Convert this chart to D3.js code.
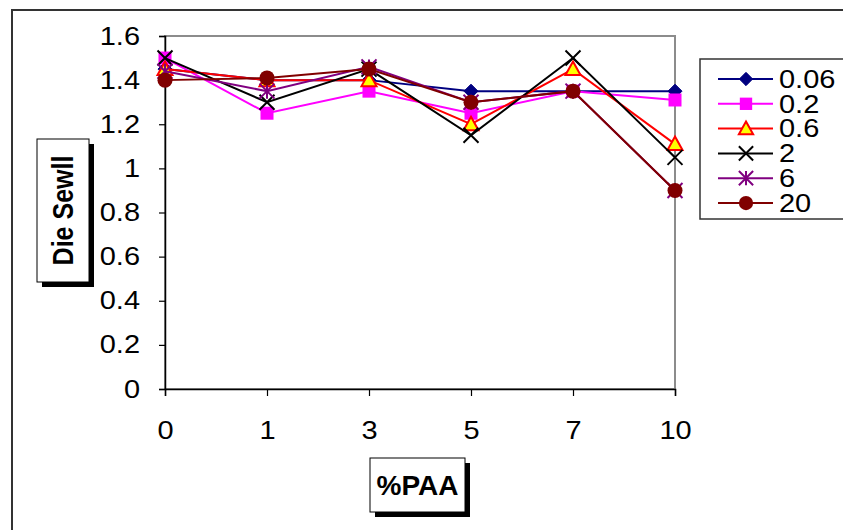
<!DOCTYPE html>
<html>
<head>
<meta charset="utf-8">
<script src="https://cdn.jsdelivr.net/npm/d3@7"></script>
<style>
  html, body { margin: 0; padding: 0; background: #fff; }
  svg { display: block; font-family: Arial, "Liberation Sans", sans-serif; }
</style>
</head>
<body>
<svg id="chart" width="843" height="530"></svg>
<script>
// %PAA categories and Die Sewll per series
const categories = ["0", "1", "3", "5", "7", "10"];
const seriesNames = ["0.06", "0.2", "0.6", "2", "6", "20"];
const s006 = [1.45, 1.40, 1.40, 1.35, 1.35, 1.35];
const s02  = [1.50, 1.25, 1.35, 1.25, 1.35, 1.31];
const s06  = [1.45, 1.40, 1.40, 1.20, 1.45, 1.11];
const s2   = [1.50, 1.30, 1.45, 1.15, 1.50, 1.05];
const s6   = [1.44, 1.35, 1.46, 1.30, 1.35, 0.90];
const s20  = [1.40, 1.41, 1.45, 1.30, 1.35, 0.90];
const yTicks = [0, 0.2, 0.4, 0.6, 0.8, 1, 1.2, 1.4, 1.6];

const seriesValues = [s006, s02, s06, s2, s6, s20];
const styles = [
  { color: "#000080", marker: "diamond" },
  { color: "#ff00ff", marker: "square" },
  { color: "#ff0000", marker: "triangle" },
  { color: "#000000", marker: "cross" },
  { color: "#800080", marker: "star" },
  { color: "#800000", marker: "circle" }
];

// text in this chart is drawn slightly wide
const WIDE = 1.16;
const FS = 25;

const svg = d3.select("#chart");

// outer chart frame
svg.append("rect").attr("x", 12).attr("y", 10).attr("width", 900).attr("height", 600)
  .attr("fill", "#fff").attr("stroke", "#333").attr("stroke-width", 2);

const x = d3.scalePoint().domain(categories).range([165, 675]);
const y = d3.scaleLinear().domain([0, 1.6]).range([389, 36]);

// plot area border (grey top and right)
svg.append("rect").attr("x", 165).attr("y", 36).attr("width", 510).attr("height", 353)
  .attr("fill", "#fff").attr("stroke", "#8c8c8c").attr("stroke-width", 2);

// axes
const yAxis = svg.append("g").attr("transform", "translate(165,0)")
  .call(d3.axisLeft(y).tickValues(yTicks).tickSize(6)
    .tickFormat(d => d3.format("")(+d.toFixed(1))));
const xAxis = svg.append("g").attr("transform", "translate(0,389)")
  .call(d3.axisBottom(x).tickSize(7).tickPadding(25));
[yAxis, xAxis].forEach(g => {
  g.select(".domain").attr("stroke", "#000").attr("stroke-width", 1.5);
  g.selectAll(".tick line").attr("stroke", "#000").attr("stroke-width", 1.2);
  g.selectAll(".tick text").attr("font-size", FS).attr("fill", "#000")
    .attr("font-family", "Arial, 'Liberation Sans', sans-serif")
    .attr("transform", `scale(${WIDE},1)`);
});
yAxis.selectAll(".tick text").attr("x", -25 / WIDE);

function drawMarker(g, type, color, cx, cy, scale) {
  const s = scale || 1;
  if (type === "diamond") {
    const r = 7 * s;
    g.append("path").attr("d", `M${cx},${cy - r}L${cx + r},${cy}L${cx},${cy + r}L${cx - r},${cy}Z`)
      .attr("fill", color).attr("stroke", color);
  } else if (type === "square") {
    const r = 6.5 * s;
    g.append("rect").attr("x", cx - r).attr("y", cy - r).attr("width", 2 * r).attr("height", 2 * r)
      .attr("fill", color);
  } else if (type === "triangle") {
    const r = 7.5 * s;
    g.append("path").attr("d", `M${cx},${cy - r}L${cx + r},${cy + r * 0.8}L${cx - r},${cy + r * 0.8}Z`)
      .attr("fill", "#ffff00").attr("stroke", color).attr("stroke-width", 2);
  } else if (type === "cross") {
    const r = 7.5 * s;
    g.append("path").attr("d", `M${cx - r},${cy - r}L${cx + r},${cy + r}M${cx + r},${cy - r}L${cx - r},${cy + r}`)
      .attr("stroke", color).attr("stroke-width", 2).attr("fill", "none");
  } else if (type === "star") {
    const r = 7.5 * s;
    g.append("path").attr("d",
      `M${cx - r},${cy - r}L${cx + r},${cy + r}M${cx + r},${cy - r}L${cx - r},${cy + r}M${cx},${cy - r}L${cx},${cy + r}`)
      .attr("stroke", color).attr("stroke-width", 2).attr("fill", "none");
  } else if (type === "circle") {
    g.append("circle").attr("cx", cx).attr("cy", cy).attr("r", 7.5 * s).attr("fill", color);
  }
}

const line = d3.line().x((d, i) => x(categories[i])).y(d => y(d));

seriesValues.forEach((vals, si) => {
  const st = styles[si];
  const g = svg.append("g");
  g.append("path").datum(vals).attr("d", line)
    .attr("fill", "none").attr("stroke", st.color).attr("stroke-width", 2);
  vals.forEach((v, i) => drawMarker(g, st.marker, st.color, x(categories[i]), y(v)));
});

// legend
const legend = svg.append("g");
legend.append("rect").attr("x", 700).attr("y", 59).attr("width", 200).attr("height", 160)
  .attr("fill", "#fff").attr("stroke", "#333").attr("stroke-width", 1.5);
seriesNames.forEach((name, i) => {
  const ly = 79 + i * 24.8;
  const st = styles[i];
  legend.append("line").attr("x1", 718).attr("x2", 773).attr("y1", ly).attr("y2", ly)
    .attr("stroke", st.color).attr("stroke-width", 2);
  drawMarker(legend, st.marker, st.color, 746, ly, 0.95);
  legend.append("text").attr("transform", `translate(779,${ly}) scale(${WIDE},1)`)
    .attr("dy", "0.35em").attr("font-size", FS).attr("fill", "#000").text(name);
});

// axis titles in shadowed boxes
function titleBox(x0, y0, w, h, text, rotate, size) {
  const g = svg.append("g");
  g.append("rect").attr("x", x0 + 5).attr("y", y0 + 5).attr("width", w).attr("height", h).attr("fill", "#000");
  g.append("rect").attr("x", x0).attr("y", y0).attr("width", w).attr("height", h)
    .attr("fill", "#fff").attr("stroke", "#000").attr("stroke-width", 1);
  const cx = x0 + w / 2, cy = y0 + h / 2;
  g.append("text")
    .attr("transform", rotate
      ? `translate(${cx},${cy}) scale(1.15,1) rotate(-90)`
      : `translate(${cx},${cy})`)
    .attr("dy", "0.36em")
    .attr("text-anchor", "middle").attr("font-size", size).attr("font-weight", "bold")
    .text(text);
}
titleBox(37, 139, 52, 143, "Die Sewll", true, 25);
titleBox(370, 458, 95, 54, "%PAA", false, 28);
</script>
</body>
</html>
